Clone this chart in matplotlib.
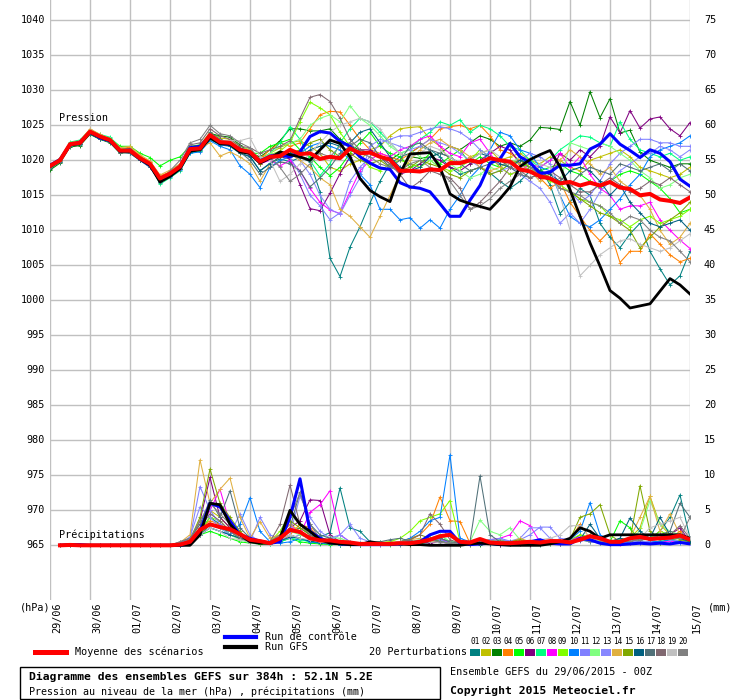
import numpy as np
import matplotlib
matplotlib.use("Agg")
import matplotlib.pyplot as plt
from matplotlib.patches import Rectangle

# 6h steps, 29/06 00Z -> 15/07 00Z (384h)
dates = ["29/06", "30/06", "01/07", "02/07", "03/07", "04/07", "05/07", "06/07", "07/07",
         "08/07", "09/07", "10/07", "11/07", "12/07", "13/07", "14/07", "15/07"]
left_ticks = [965, 970, 975, 980, 985, 990, 995, 1000, 1005, 1010, 1015, 1020, 1025, 1030, 1035, 1040]
right_ticks = [0, 5, 10, 15, 20, 25, 30, 35, 40, 45, 50, 55, 60, 65, 70, 75]
pert_colors = ["#008080", "#c0c000", "#008000", "#ff8000", "#00ff00", "#800080", "#00ff80",
               "#ff00ff", "#80ff00", "#0080ff", "#8080ff", "#80ff80", "#8888ff", "#e0b040",
               "#80a800", "#006080", "#507078", "#806870", "#c0c0c0", "#808080"]

# ---- pressure (hPa) ----
p_mean = [1019.2, 1020.0, 1022.3, 1022.5, 1024.1, 1023.4, 1022.9, 1021.4, 1021.4, 1020.3, 1019.5, 1017.4, 1018.1,
          1019.1, 1021.6, 1021.7, 1023.6, 1022.6, 1022.5, 1021.5, 1021.2, 1019.8, 1020.5, 1020.6, 1021.5, 1020.9,
          1021.0, 1020.2, 1020.5, 1020.3, 1021.7, 1021.0, 1021.1, 1020.5, 1020.1, 1018.5, 1018.5, 1018.4, 1018.7,
          1018.6, 1019.6, 1019.6, 1020.0, 1019.7, 1020.3, 1020.0, 1019.8, 1018.7, 1018.4, 1017.7, 1017.4, 1016.7,
          1016.9, 1016.4, 1016.8, 1016.4, 1016.9, 1016.1, 1015.9, 1015.0, 1015.2, 1014.4, 1014.2, 1013.9, 1014.7]
p_ctrl = [1019.3, 1020.1, 1022.2, 1022.6, 1024.0, 1023.2, 1022.8, 1021.3, 1021.5, 1020.2, 1019.3, 1017.3, 1018.0,
          1019.0, 1021.8, 1022.0, 1023.5, 1022.4, 1022.3, 1021.6, 1021.1, 1019.9, 1020.6, 1020.8, 1020.5, 1021.2,
          1023.4, 1024.1, 1023.9, 1022.7, 1022.0, 1020.5, 1019.6, 1018.9, 1018.7, 1016.8, 1016.2, 1016.0, 1015.5,
          1013.8, 1012.0, 1012.0, 1014.3, 1016.4, 1019.6, 1020.2, 1022.4, 1020.5, 1019.7, 1018.1, 1018.3, 1019.3,
          1019.3, 1019.5, 1021.6, 1022.3, 1023.8, 1022.3, 1021.4, 1020.4, 1021.5, 1021.0, 1019.8, 1017.3, 1016.3]
p_gfs = [1019.1, 1020.0, 1022.2, 1022.4, 1024.0, 1023.3, 1022.8, 1021.3, 1021.3, 1020.2, 1019.3, 1016.9, 1017.7,
         1018.8, 1021.3, 1021.5, 1023.2, 1022.4, 1022.3, 1021.2, 1021.0, 1019.6, 1020.3, 1021.2, 1020.8, 1020.5,
         1020.0, 1021.5, 1022.9, 1022.4, 1020.5, 1017.4, 1015.7, 1014.8, 1014.1, 1018.1, 1020.9, 1021.0, 1021.1,
         1019.0, 1015.2, 1014.3, 1013.8, 1013.4, 1013.0, 1014.5, 1016.2, 1019.1, 1020.1, 1020.8, 1021.4, 1019.1,
         1015.8, 1012.0, 1008.2, 1004.9, 1001.4, 1000.3, 998.9, 999.2, 999.5, 1001.3, 1003.1, 1002.2, 1000.9]

p01 = [1018.8, 1019.8, 1022.0, 1022.2, 1023.8, 1023.0, 1022.6, 1021.2, 1021.0, 1020.0, 1019.2, 1016.8, 1017.8, 1018.7, 1021.2, 1021.4, 1023.0, 1022.2, 1022.0, 1021.0, 1020.6,
       1018.5, 1019.6, 1020.2, 1019.8, 1020.4, 1019.8, 1015.5, 1006.0, 1003.4, 1007.6, 1010.5,
       1013.9, 1017.0, 1019.5, 1020.5, 1021.0, 1022.0, 1021.5, 1020.5, 1019.0, 1018.0, 1018.5, 1019.0, 1018.2, 1017.0, 1016.0, 1017.0, 1018.5, 1019.0, 1016.5, 1012.4, 1014.0, 1016.0, 1015.0, 1011.0, 1009.0, 1007.5, 1009.5, 1011.0, 1007.0, 1004.5, 1002.2, 1003.5, 1007.0]
p02 = [1019.4, 1020.2, 1022.5, 1022.7, 1024.4, 1023.6, 1023.1, 1021.7, 1021.6, 1020.5, 1019.7, 1017.6, 1018.4, 1019.4, 1021.9, 1022.2, 1024.0, 1023.2, 1023.0, 1022.0, 1021.5,
       1020.3, 1021.0, 1021.8, 1022.5, 1022.8, 1022.0, 1021.0, 1019.0, 1018.5, 1019.5, 1020.0,
       1021.5, 1022.0, 1023.5, 1024.5, 1024.7, 1024.8, 1023.0, 1022.0, 1020.0, 1019.5, 1020.5, 1021.0, 1021.5, 1020.0, 1020.5, 1021.0, 1020.0, 1019.5, 1020.5, 1020.0, 1019.0, 1018.5, 1020.0, 1020.5, 1021.0, 1021.5, 1020.5, 1019.0, 1018.5, 1018.0, 1017.5, 1018.0, 1019.0]
p03 = [1018.6, 1019.6, 1021.9, 1022.1, 1023.7, 1023.0, 1022.5, 1021.0, 1021.2, 1020.1, 1019.2, 1017.0, 1017.8, 1018.9, 1021.5, 1021.8, 1023.8, 1023.5, 1023.3, 1022.2, 1021.0,
       1020.5, 1021.5, 1022.8, 1024.5, 1024.5, 1024.2, 1024.2, 1024.5, 1023.0, 1022.0, 1021.5,
       1021.0, 1020.5, 1020.0, 1021.0, 1020.5, 1020.3, 1020.5, 1021.0, 1022.0, 1021.5, 1022.5, 1023.5, 1023.0, 1022.0, 1022.5, 1022.0, 1022.9, 1024.7, 1024.6, 1024.4, 1028.4, 1025.0, 1029.8, 1026.1, 1028.8, 1023.9, 1024.3, 1021.2, 1020.0, 1019.5, 1019.0, 1019.5, 1019.5]
p04 = [1019.2, 1020.1, 1022.4, 1022.6, 1024.2, 1023.5, 1023.0, 1021.6, 1021.9, 1020.6, 1019.8, 1017.8, 1018.3, 1019.3, 1021.3, 1021.9, 1023.4, 1022.8, 1022.6, 1021.4, 1021.3,
       1020.2, 1021.5, 1022.5, 1022.0, 1022.5, 1024.5, 1026.5, 1027.0, 1026.9, 1025.0, 1023.0,
       1021.5, 1021.0, 1020.5, 1020.0, 1021.0, 1022.0, 1023.0, 1024.5, 1024.8, 1025.0, 1024.5, 1025.0, 1023.5, 1021.5, 1021.0, 1020.0, 1019.0, 1017.5, 1016.0, 1017.0, 1014.0, 1012.0, 1010.0, 1008.5, 1010.0, 1005.4, 1007.0, 1007.0, 1009.5, 1008.0, 1006.5, 1005.5, 1006.0]
p05 = [1019.0, 1020.0, 1022.4, 1022.8, 1024.3, 1023.4, 1023.2, 1022.0, 1022.0, 1021.0, 1020.4, 1019.2, 1020.0, 1020.5, 1022.0, 1022.2, 1023.3, 1022.8, 1022.5, 1021.8, 1021.0,
       1021.0, 1022.0, 1022.5, 1023.0, 1021.5, 1020.5, 1019.0, 1017.8, 1019.0, 1021.0, 1022.5,
       1024.0, 1022.0, 1021.0, 1020.5, 1019.0, 1019.5, 1021.0, 1019.5, 1020.5, 1021.5, 1019.5, 1020.5, 1019.5, 1019.0, 1020.0, 1019.5, 1019.0, 1018.5, 1019.0, 1019.5, 1018.5, 1018.0, 1017.0, 1016.0, 1017.0, 1018.0, 1018.5, 1018.0, 1017.0, 1016.0, 1014.5, 1012.5, 1013.0]
p06 = [1019.1, 1019.9, 1022.1, 1022.4, 1023.9, 1023.2, 1022.7, 1021.2, 1021.2, 1020.1, 1019.3, 1017.2, 1017.9, 1018.8, 1021.4, 1021.6, 1023.2, 1022.4, 1022.3, 1021.3, 1020.8,
       1019.5, 1020.2, 1020.5, 1020.2, 1016.5, 1013.1, 1012.8, 1015.3, 1018.1, 1020.5, 1021.5,
       1021.5, 1020.5, 1019.5, 1018.0, 1018.5, 1019.5, 1020.5, 1020.0, 1019.0, 1018.5, 1019.5, 1020.0, 1021.0, 1022.0, 1021.5, 1019.5, 1018.5, 1017.5, 1018.0, 1021.0, 1020.0, 1021.5, 1020.5, 1022.0, 1026.2, 1023.9, 1027.1, 1024.6, 1025.9, 1026.2, 1024.5, 1023.5, 1025.4]
p07 = [1019.3, 1020.3, 1022.6, 1022.9, 1024.4, 1023.7, 1023.3, 1021.8, 1021.6, 1020.4, 1019.5, 1016.6, 1017.5, 1018.5, 1021.0, 1021.3, 1023.0, 1022.5, 1022.6, 1021.6, 1021.4,
       1020.0, 1021.0, 1022.5, 1024.8, 1023.0, 1020.0, 1017.8, 1019.5, 1022.5, 1024.5, 1026.0,
       1025.5, 1024.0, 1022.5, 1021.0, 1021.5, 1023.0, 1024.0, 1025.5, 1025.0, 1025.8, 1024.0, 1025.0, 1024.5, 1023.5, 1022.0, 1021.5, 1020.0, 1019.0, 1020.0, 1021.5, 1022.5, 1023.5, 1023.3, 1022.5, 1022.0, 1025.5, 1023.0, 1021.5, 1021.0, 1020.5, 1021.0, 1020.0, 1020.5]
p08 = [1019.2, 1020.0, 1022.3, 1022.5, 1024.2, 1023.5, 1022.9, 1021.5, 1021.3, 1020.2, 1019.4, 1017.3, 1018.0, 1019.0, 1021.5, 1021.6, 1023.5, 1022.5, 1022.4, 1021.3, 1021.0,
       1019.5, 1020.0, 1019.2, 1020.0, 1018.5, 1016.0, 1014.0, 1012.9, 1012.4, 1015.5, 1018.5,
       1020.0, 1021.0, 1020.5, 1021.5, 1022.0, 1023.0, 1023.5, 1022.0, 1021.0, 1020.5, 1022.5, 1023.0, 1021.0, 1019.0, 1018.0, 1018.5, 1019.5, 1019.0, 1020.0, 1021.0, 1019.0, 1020.5, 1018.0, 1016.0, 1015.0, 1013.0, 1013.5, 1013.5, 1014.0, 1011.5, 1010.0, 1008.6, 1007.4]
p09 = [1019.3, 1020.1, 1022.2, 1022.4, 1024.1, 1023.3, 1022.8, 1021.3, 1021.5, 1020.4, 1019.6, 1017.5, 1018.2, 1019.2, 1021.7, 1021.8, 1023.7, 1022.8, 1022.7, 1021.7, 1021.3,
       1019.9, 1020.8, 1021.3, 1022.5, 1025.5, 1028.3, 1027.5, 1026.5, 1024.0, 1022.0, 1020.5,
       1019.0, 1018.5, 1019.5, 1020.0, 1019.5, 1019.0, 1020.0, 1019.0, 1018.5, 1019.0, 1020.0, 1021.5, 1020.5, 1019.0, 1018.0, 1018.5, 1019.0, 1018.0, 1017.0, 1016.5, 1015.5, 1014.5, 1014.0, 1013.5, 1012.0, 1011.5, 1010.5, 1011.5, 1012.0, 1011.0, 1011.5, 1012.0, 1013.0]
p10 = [1019.0, 1019.8, 1022.0, 1022.3, 1023.9, 1023.1, 1022.6, 1021.2, 1021.1, 1020.0, 1019.0, 1016.9, 1017.6, 1018.6, 1021.0, 1021.2, 1022.8, 1022.0, 1021.5, 1019.2, 1018.0,
       1016.1, 1019.0, 1020.0, 1020.5, 1021.0, 1022.0, 1022.5, 1022.0, 1021.5, 1020.0, 1018.0,
       1016.5, 1013.0, 1013.0, 1011.5, 1011.8, 1010.3, 1011.5, 1010.3, 1013.0, 1015.0, 1017.5, 1019.0, 1021.5, 1024.0, 1023.5, 1021.5, 1021.0, 1019.0, 1018.5, 1015.0, 1012.0, 1011.0, 1010.5, 1011.5, 1013.0, 1014.5, 1016.5, 1018.0, 1020.5, 1021.5, 1022.0, 1022.5, 1023.5]
p11 = [1019.1, 1020.0, 1022.2, 1022.6, 1024.0, 1023.3, 1022.8, 1021.4, 1021.4, 1020.3, 1019.4, 1017.2, 1018.1, 1019.1, 1021.6, 1021.6, 1023.2, 1022.5, 1022.4, 1021.5, 1021.2,
       1019.8, 1020.8, 1021.0, 1020.5, 1018.0, 1015.0, 1013.5, 1011.5, 1012.5, 1017.0, 1019.0,
       1020.5, 1022.5, 1023.0, 1023.5, 1023.5, 1024.0, 1024.5, 1024.8, 1024.5, 1024.0, 1023.0, 1021.5, 1020.5, 1020.0, 1019.5, 1020.0, 1021.0, 1020.5, 1019.5, 1016.0, 1015.5, 1014.0, 1015.0, 1017.0, 1019.5, 1021.0, 1022.0, 1023.0, 1023.0, 1022.5, 1022.5, 1022.0, 1022.0]
p12 = [1019.2, 1020.0, 1022.4, 1022.5, 1024.2, 1023.5, 1023.0, 1021.5, 1021.4, 1020.2, 1019.4, 1017.4, 1018.2, 1019.3, 1021.8, 1022.0, 1023.6, 1022.8, 1022.7, 1021.8, 1021.5,
       1020.0, 1021.0, 1022.0, 1022.5, 1023.0, 1025.0, 1026.0, 1026.5, 1025.5, 1027.8, 1026.0,
       1025.0, 1023.5, 1022.0, 1021.0, 1021.5, 1020.5, 1020.0, 1019.0, 1019.5, 1018.5, 1017.5, 1018.0, 1019.0, 1018.5, 1019.5, 1020.5, 1019.0, 1018.0, 1017.5, 1016.5, 1022.5, 1022.0, 1021.5, 1022.5, 1022.0, 1021.0, 1020.0, 1018.5, 1017.5, 1016.0, 1016.5, 1017.5, 1018.0]
p13 = [1019.3, 1020.1, 1022.3, 1022.5, 1024.1, 1023.4, 1022.9, 1021.5, 1021.3, 1020.3, 1019.5, 1017.3, 1018.0, 1019.0, 1021.4, 1021.5, 1023.4, 1022.6, 1022.6, 1021.6, 1021.1,
       1020.0, 1020.5, 1021.0, 1021.5, 1020.0, 1018.0, 1015.0, 1013.0, 1012.3, 1015.0, 1017.5,
       1022.0, 1023.0, 1022.5, 1022.0, 1021.5, 1022.0, 1023.0, 1022.5, 1022.0, 1021.0, 1020.0, 1019.0, 1018.0, 1018.5, 1019.0, 1018.0, 1017.0, 1016.0, 1014.0, 1011.0, 1012.5, 1011.0, 1013.0, 1015.5, 1017.0, 1018.5, 1019.5, 1020.5, 1021.0, 1022.0, 1021.5, 1020.5, 1021.5]
p14 = [1019.4, 1020.3, 1022.5, 1022.8, 1024.5, 1023.7, 1023.1, 1021.8, 1022.0, 1020.8, 1019.9, 1017.9, 1018.6, 1019.5, 1021.5, 1021.8, 1022.5, 1020.6, 1021.2, 1020.5, 1019.5,
       1017.0, 1019.5, 1020.5, 1021.0, 1020.0, 1019.0, 1017.5, 1016.5, 1013.0, 1012.0, 1010.5,
       1009.0, 1012.0, 1015.0, 1018.0, 1020.0, 1021.5, 1022.5, 1023.0, 1022.0, 1021.5, 1020.5, 1019.0, 1018.5, 1019.0, 1020.0, 1019.5, 1018.5, 1017.0, 1018.0, 1020.0, 1021.5, 1020.5, 1019.5, 1018.0, 1019.0, 1017.0, 1016.0, 1015.0, 1013.0, 1010.0, 1008.0, 1009.0, 1011.0]
p15 = [1019.0, 1019.9, 1022.1, 1022.3, 1024.0, 1023.2, 1022.7, 1021.2, 1021.2, 1020.1, 1019.2, 1017.1, 1017.8, 1018.8, 1021.3, 1021.6, 1023.3, 1022.4, 1022.3, 1021.4, 1020.9,
       1019.5, 1020.3, 1021.2, 1021.0, 1021.5, 1022.5, 1023.0, 1021.5, 1020.5, 1021.0, 1020.0,
       1019.5, 1020.0, 1019.0, 1018.5, 1019.0, 1020.0, 1019.5, 1019.0, 1018.0, 1017.5, 1018.5, 1019.0, 1018.0, 1018.5, 1019.5, 1020.0, 1019.0, 1018.5, 1017.5, 1016.0, 1015.5, 1014.5, 1013.5, 1012.5, 1012.0, 1011.0, 1010.0, 1007.5, 1009.0, 1010.5, 1011.5, 1012.5, 1014.0]
p16 = [1019.1, 1020.0, 1022.2, 1022.4, 1024.0, 1023.2, 1022.8, 1021.3, 1021.2, 1020.0, 1019.1, 1017.0, 1017.7, 1018.7, 1021.2, 1021.5, 1023.2, 1022.3, 1022.1, 1021.0, 1020.5,
       1018.5, 1019.5, 1020.5, 1021.0, 1020.5, 1021.5, 1022.0, 1022.5, 1022.0, 1022.5, 1024.0,
       1024.5, 1022.5, 1020.5, 1019.0, 1018.5, 1019.0, 1020.5, 1021.0, 1020.5, 1019.5, 1020.0, 1021.0, 1020.5, 1019.5, 1019.0, 1020.0, 1019.5, 1018.5, 1018.0, 1017.0, 1018.5, 1019.0, 1018.5, 1017.0, 1015.0, 1016.5, 1014.0, 1012.5, 1011.0, 1010.5, 1011.0, 1011.5, 1010.0]
p17 = [1018.9, 1019.8, 1022.0, 1022.3, 1023.9, 1023.1, 1022.6, 1021.1, 1021.0, 1020.0, 1019.0, 1016.9, 1017.7, 1018.8, 1021.6, 1021.8, 1024.0, 1023.0, 1022.5, 1021.2, 1020.0,
       1018.0, 1019.0, 1019.8, 1019.5, 1018.5, 1016.2, 1017.5, 1019.0, 1021.0, 1022.0, 1023.0,
       1022.5, 1020.5, 1019.0, 1020.0, 1022.0, 1022.5, 1021.5, 1021.0, 1020.5, 1019.5, 1018.5, 1019.0, 1019.5, 1020.0, 1019.0, 1018.0, 1017.5, 1018.0, 1017.5, 1017.0, 1016.5, 1018.0, 1019.0, 1018.5, 1018.0, 1019.5, 1019.0, 1018.5, 1019.0, 1019.5, 1018.5, 1019.5, 1018.5]
p18 = [1019.2, 1020.1, 1022.3, 1022.5, 1024.0, 1023.4, 1022.9, 1021.5, 1021.4, 1020.3, 1019.5, 1017.5, 1018.3, 1019.4, 1022.2, 1022.5, 1024.5, 1023.5, 1023.0, 1022.0, 1021.8,
       1021.0, 1021.5, 1022.0, 1022.8, 1026.0, 1029.0, 1029.4, 1028.4, 1026.0, 1023.0, 1021.5,
       1021.0, 1020.5, 1019.5, 1018.0, 1016.0, 1017.0, 1018.5, 1018.0, 1017.5, 1016.0, 1013.0, 1014.0, 1015.5, 1017.0, 1019.0, 1018.5, 1017.5, 1018.0, 1018.5, 1017.5, 1016.5, 1015.5, 1015.5, 1016.5, 1017.5, 1016.5, 1015.5, 1016.0, 1017.0, 1016.5, 1017.5, 1016.5, 1015.5]
p19 = [1019.3, 1020.2, 1022.4, 1022.7, 1024.3, 1023.5, 1023.0, 1021.6, 1021.5, 1020.4, 1019.6, 1017.6, 1018.3, 1019.3, 1021.9, 1021.9, 1023.6, 1022.8, 1022.8, 1022.8, 1023.2,
       1020.5, 1020.0, 1017.0, 1018.0, 1019.5, 1021.0, 1022.5, 1024.0, 1025.0, 1025.5, 1026.0,
       1025.5, 1024.5, 1022.5, 1021.0, 1020.5, 1021.0, 1022.0, 1021.5, 1020.5, 1019.5, 1020.0, 1021.0, 1021.5, 1020.5, 1019.5, 1019.0, 1018.5, 1019.5, 1019.0, 1015.0, 1010.0, 1003.5, 1005.0, 1006.5, 1007.5, 1008.5, 1008.8, 1008.0, 1007.5, 1007.0, 1007.5, 1008.5, 1009.5]
p20 = [1019.0, 1020.0, 1022.2, 1022.5, 1024.2, 1023.3, 1022.9, 1021.4, 1021.3, 1020.2, 1019.3, 1017.0, 1018.5, 1020.0, 1022.5, 1023.0, 1025.0, 1023.8, 1023.5, 1022.5, 1021.8,
       1020.0, 1020.5, 1019.0, 1017.0, 1018.0, 1019.5, 1021.0, 1020.5, 1022.0, 1022.5, 1021.0,
       1020.5, 1019.5, 1019.0, 1018.5, 1019.5, 1020.0, 1019.0, 1018.5, 1017.0, 1015.0, 1013.0, 1013.5, 1014.5, 1016.0, 1017.0, 1018.0, 1019.0, 1018.0, 1017.5, 1016.0, 1015.5, 1015.0, 1014.0, 1013.5, 1012.5, 1011.0, 1012.0, 1011.5, 1010.0, 1009.0, 1008.5, 1007.0, 1005.5]

# ---- 6h precipitation (mm), steps 1..64 ----
r_mean = [0, 0.05, 0, 0, 0, 0, 0, 0,
          0, 0, 0, 0, 0.1, 0.5, 2.2, 3.0,
          2.6, 2.3, 1.6, 0.8, 0.6, 0.3, 1.0, 2.2,
          1.9, 1.0, 0.7, 0.7, 0.5, 0.4, 0.2, 0.2,
          0.2, 0.2, 0.3, 0.3, 0.5, 0.8, 1.3, 1.5,
          0.5, 0.4, 0.9, 0.4, 0.3, 0.3, 0.4, 0.5,
          0.4, 0.6, 0.6, 0.4, 0.8, 1.3, 1.0, 0.5,
          0.5, 1.0, 1.2, 0.9, 1.0, 1.1, 1.4, 0.8]
r_ctrl = [0, 0.1, 0.1, 0, 0, 0, 0, 0,
          0, 0, 0, 0, 0, 0.2, 2.0, 6.0,
          5.5, 3.5, 1.5, 1.0, 0.6, 0.3, 0.5, 4.0,
          9.5, 2.0, 1.0, 0.5, 0.2, 0.1, 0.1, 0.1,
          0.1, 0.1, 0.2, 0.3, 0.5, 1.5, 2.0, 2.0,
          0.3, 0.1, 0.2, 0.3, 0.1, 0.1, 0.2, 0.5,
          0.8, 0.3, 0.2, 0.2, 1.0, 0.8, 0.3, 0.1,
          0.1, 0.2, 0.3, 0.2, 0.3, 0.2, 0.4, 0.2]
r_gfs = [0, 0, 0, 0, 0, 0, 0, 0,
         0, 0, 0, 0, 0, 0, 1.5, 6.0,
         5.8, 3.0, 1.5, 0.5, 0.3, 0.3, 1.0, 5.0,
         3.0, 2.0, 0.8, 0.3, 0.2, 0.1, 0.1, 0.5,
         0.3, 0.2, 0.2, 0.1, 0.1, 0, 0, 0,
         0, 0.2, 0.3, 0.2, 0.1, 0, 0, 0,
         0, 0.2, 0.5, 1.0, 2.5, 2.0, 1.0, 1.5,
         1.5, 1.5, 1.5, 1.5, 1.5, 1.5, 1.5, 1.0]

r01 = [0, 0, 0, 0, 0, 0, 0, 0, 0, 0, 0, 0, 0.2, 0.5, 2.0, 4.0, 3.0, 1.5, 1.0, 0.3, 0.2, 0.5, 1.0, 2.0,
       2.5, 1.5, 1.2, 1.8, 8.2, 2.5, 2.0, 0.5, 0.3, 0.2, 0.1, 0.2, 0.3, 0.4, 1.0, 0.5,
       0.2, 0.1, 0.2, 0.3, 0.2, 0.5, 0.3, 0.2, 0.1, 0.3, 0.2, 0.5, 1.0, 1.5, 0.8, 0.5, 1.0, 0.8, 1.5, 1.0, 2.0, 4.0, 7.2, 1.0]
r02 = [0, 0, 0, 0, 0, 0, 0, 0, 0, 0, 0, 0, 0.3, 0.8, 3.0, 5.0, 4.0, 2.5, 1.0, 0.5, 0.2, 0.3, 1.5, 3.0,
       2.0, 1.0, 0.5, 0.3, 0.2, 0.1, 0.1, 0.2, 0.3, 0.5, 0.2, 0.4, 0.6, 0.8, 1.0, 0.4,
       0.2, 0.1, 0.3, 0.5, 0.4, 0.2, 0.3, 0.5, 0.4, 0.6, 0.5, 0.3, 0.8, 1.5, 1.0, 0.5, 0.8, 1.0, 2.5, 7.0, 3.0, 1.5, 1.0, 0.5]
r03 = [0, 0, 0, 0, 0, 0, 0, 0, 0, 0, 0, 0, 0.1, 0.4, 1.5, 3.0, 2.5, 2.0, 1.0, 0.5, 0.3, 0.2, 0.8, 1.5,
       1.0, 0.5, 0.3, 0.2, 0.1, 0.2, 0.1, 0.1, 0.2, 0.3, 0.2, 0.1, 0.3, 0.5, 0.8, 0.3,
       0.1, 0.2, 0.1, 0.2, 0.1, 0.2, 0.3, 0.2, 0.3, 0.2, 0.4, 0.5, 1.5, 1.0, 0.5, 0.3, 0.5, 0.4, 0.6, 0.5, 0.4, 0.8, 1.0, 0.5]
r04 = [0, 0, 0, 0, 0, 0, 0, 0, 0, 0, 0, 0, 0.2, 0.6, 2.5, 3.5, 3.0, 2.0, 1.5, 0.8, 0.5, 0.3, 0.5, 1.5,
       3.0, 2.5, 1.0, 0.5, 0.3, 0.2, 0.2, 0.3, 0.3, 0.2, 0.5, 1.0, 1.5, 3.0, 6.9, 3.5,
       3.4, 0.3, 0.5, 0.8, 0.5, 0.3, 0.4, 0.2, 0.3, 0.5, 0.5, 0.8, 3.0, 1.0, 0.5, 0.3, 0.5, 0.8, 1.2, 0.8, 1.5, 1.0, 2.0, 0.5]
r05 = [0, 0, 0, 0, 0, 0, 0, 0, 0, 0, 0, 0, 0.1, 0.3, 1.5, 2.0, 1.5, 1.0, 0.5, 0.3, 0.2, 0.2, 0.5, 1.0,
       0.5, 0.3, 0.2, 0.1, 0.1, 0.2, 0.1, 0.1, 0.2, 0.1, 0.2, 0.3, 0.4, 0.6, 1.0, 0.4,
       0.1, 0.2, 0.3, 0.5, 0.8, 0.4, 0.3, 0.2, 0.2, 0.3, 0.5, 0.4, 0.8, 0.5, 0.4, 0.5, 3.5, 2.5, 0.5, 0.3, 0.5, 0.8, 0.6, 0.5]
r06 = [0, 0, 0, 0, 0, 0, 0, 0, 0, 0, 0, 0, 0.2, 0.8, 3.5, 9.7, 4.0, 2.5, 1.5, 0.5, 0.3, 0.3, 1.0, 2.5,
       3.5, 6.5, 6.4, 1.5, 0.5, 0.2, 0.1, 0.2, 0.1, 0.2, 0.3, 0.2, 0.5, 0.3, 0.5, 0.2,
       0.1, 0.2, 0.3, 0.2, 0.1, 0.3, 0.2, 0.1, 0.2, 0.3, 0.2, 0.5, 0.8, 0.6, 0.3, 0.2, 0.5, 0.6, 1.0, 0.8, 1.2, 1.5, 2.5, 0.5]
r07 = [0, 0, 0, 0, 0, 0, 0, 0, 0, 0, 0, 0, 0.1, 0.4, 2.0, 3.0, 2.5, 1.5, 1.0, 0.5, 0.3, 0.2, 0.5, 1.0,
       0.8, 0.5, 0.3, 0.2, 0.1, 0.2, 0.1, 0.3, 0.5, 0.3, 0.2, 0.3, 0.5, 0.8, 1.5, 0.5,
       0.3, 0.2, 0.3, 0.5, 0.4, 0.3, 0.5, 0.4, 0.3, 0.4, 0.6, 0.5, 1.0, 0.8, 0.6, 0.5, 0.8, 1.0, 1.2, 1.0, 0.8, 1.5, 1.2, 0.5]
r08 = [0, 0, 0, 0, 0, 0, 0, 0, 0, 0, 0, 0, 0.3, 0.8, 2.5, 5.0, 8.0, 3.0, 1.5, 0.5, 0.3, 0.5, 1.5, 3.0,
       1.5, 4.7, 5.8, 7.8, 1.5, 0.5, 0.3, 0.2, 0.2, 0.3, 0.2, 0.3, 0.5, 0.8, 1.0, 0.3,
       0.2, 0.3, 0.5, 0.8, 1.0, 1.5, 3.5, 2.8, 0.5, 0.3, 0.5, 0.8, 1.2, 1.0, 0.5, 0.3, 0.2, 0.3, 0.4, 0.3, 0.5, 0.6, 0.5, 0.4]
r09 = [0, 0, 0, 0, 0, 0, 0, 0, 0, 0, 0, 0, 0.2, 0.5, 2.0, 4.0, 3.5, 2.0, 1.0, 0.5, 0.3, 0.5, 2.0, 4.5,
       3.0, 1.5, 0.5, 0.3, 0.2, 0.1, 0.2, 0.3, 0.4, 0.5, 1.0, 2.0, 3.5, 4.0, 4.5, 6.4,
       0.5, 0.3, 0.5, 0.8, 0.6, 0.4, 0.5, 0.3, 0.4, 0.3, 0.5, 0.8, 1.5, 1.2, 0.8, 0.5, 0.5, 1.0, 1.5, 1.0, 2.0, 1.5, 1.0, 0.5]
r10 = [0, 0, 0, 0, 0, 0, 0, 0, 0, 0, 0, 0, 0.1, 0.3, 1.5, 2.5, 2.0, 1.5, 3.0, 6.8, 2.0, 0.5, 0.3, 0.5,
       1.0, 0.5, 0.3, 0.2, 0.1, 0.2, 0.3, 0.2, 0.2, 0.3, 0.5, 1.0, 2.0, 3.5, 4.0, 12.9,
       1.0, 0.5, 0.3, 0.2, 0.3, 0.4, 0.3, 0.5, 0.4, 0.3, 0.5, 0.8, 2.0, 6.1, 1.5, 0.5, 0.3, 0.5, 0.4, 0.6, 0.5, 0.8, 0.4, 0.3]
r11 = [0, 0, 0, 0, 0, 0, 0, 0, 0, 0, 0, 0, 0.3, 1.0, 8.4, 5.0, 3.0, 2.0, 1.0, 0.5, 4.0, 1.5, 0.8, 1.0,
       1.5, 1.0, 0.8, 0.6, 1.5, 0.5, 0.3, 0.2, 0.2, 0.3, 0.4, 0.5, 0.8, 1.0, 0.8, 0.3,
       0.2, 0.3, 0.5, 0.8, 1.0, 0.6, 0.8, 1.5, 2.6, 2.6, 1.0, 0.8, 0.6, 0.8, 0.5, 0.4, 0.5, 0.8, 1.0, 0.8, 1.5, 1.2, 1.0, 0.5]
r12 = [0, 0, 0, 0, 0, 0, 0, 0, 0, 0, 0, 0, 0.2, 0.5, 2.0, 3.0, 2.5, 1.5, 0.8, 0.4, 0.3, 0.3, 1.0, 2.0,
       1.5, 1.0, 0.8, 1.2, 1.0, 0.5, 0.3, 0.3, 0.3, 0.2, 0.3, 0.5, 0.8, 1.0, 1.5, 0.5,
       0.5, 0.5, 3.6, 2.0, 1.5, 2.5, 0.8, 0.5, 0.3, 0.5, 0.4, 0.6, 0.8, 1.0, 0.5, 0.4, 0.6, 1.0, 2.0, 6.4, 3.0, 2.0, 1.5, 0.6]
r13 = [0, 0, 0, 0, 0, 0, 0, 0, 0, 0, 0, 0, 0.3, 1.2, 5.5, 4.0, 2.5, 1.5, 4.5, 1.5, 0.5, 0.3, 0.8, 1.5,
       7.0, 4.0, 2.0, 1.0, 1.5, 3.0, 1.0, 0.5, 0.3, 0.2, 0.3, 0.4, 0.6, 0.8, 0.5, 0.3,
       0.2, 0.3, 0.4, 0.5, 0.8, 0.6, 1.0, 2.5, 2.5, 1.0, 0.5, 0.6, 0.8, 0.5, 0.3, 0.2, 0.4, 0.5, 0.6, 0.5, 1.0, 0.8, 0.6, 0.4]
r14 = [0, 0, 0, 0, 0, 0, 0, 0, 0, 0, 0, 0, 0.4, 1.5, 12.2, 6.0, 8.0, 9.6, 4.0, 1.0, 3.4, 1.0, 1.5, 3.0,
       2.0, 1.0, 0.5, 0.3, 0.2, 0.3, 0.2, 0.3, 0.4, 0.3, 0.5, 0.8, 1.0, 0.6, 0.5, 0.3,
       0.2, 0.3, 0.4, 0.5, 0.6, 0.4, 1.0, 0.5, 0.4, 0.3, 0.5, 0.6, 1.0, 0.8, 0.5, 0.4, 0.5, 1.0, 4.0, 7.0, 2.0, 4.5, 1.5, 0.5]
r15 = [0, 0, 0, 0, 0, 0, 0, 0, 0, 0, 0, 0, 0.2, 0.8, 4.0, 10.9, 6.0, 4.0, 2.0, 0.5, 0.3, 0.5, 1.5, 3.5,
       2.5, 1.5, 0.5, 0.3, 0.2, 0.1, 0.2, 0.3, 0.3, 0.4, 0.5, 0.8, 1.5, 1.0, 0.5, 0.3,
       0.2, 0.3, 0.4, 0.5, 0.6, 0.5, 0.8, 0.5, 0.4, 0.5, 0.5, 0.8, 4.0, 4.5, 5.8, 1.5, 0.5, 0.8, 8.5, 2.0, 1.0, 1.5, 0.8, 0.5]
r16 = [0, 0, 0, 0, 0, 0, 0, 0, 0, 0, 0, 0, 0.1, 0.4, 1.5, 2.5, 2.0, 1.5, 1.0, 0.5, 0.3, 0.3, 0.6, 1.2,
       1.0, 0.6, 0.4, 0.3, 0.2, 0.3, 0.2, 0.2, 0.2, 0.3, 0.4, 0.5, 0.6, 0.8, 0.5, 0.3,
       0.2, 0.3, 0.5, 0.4, 0.3, 0.5, 0.4, 0.3, 0.3, 0.4, 0.6, 0.5, 0.8, 3.0, 1.0, 0.5, 1.0, 3.9, 2.0, 1.0, 4.0, 1.5, 1.0, 0.5]
r17 = [0, 0, 0, 0, 0, 0, 0, 0, 0, 0, 0, 0, 0.5, 1.0, 3.0, 6.5, 4.0, 7.8, 2.5, 1.0, 0.5, 0.3, 1.0, 2.5,
       7.6, 3.0, 1.5, 1.0, 0.5, 0.3, 0.2, 0.3, 0.5, 0.8, 1.0, 0.6, 0.5, 0.8, 1.0, 0.5,
       0.3, 0.5, 9.9, 1.5, 0.5, 0.3, 0.4, 0.3, 0.3, 0.5, 0.4, 0.6, 1.0, 0.8, 0.5, 0.4, 0.5, 0.6, 0.8, 1.0, 1.5, 2.0, 6.0, 4.0]
r18 = [0, 0, 0, 0, 0, 0, 0, 0, 0, 0, 0, 0, 0.3, 0.6, 2.5, 4.5, 3.5, 2.0, 1.0, 0.5, 0.3, 0.5, 3.0, 8.6,
       3.0, 1.5, 0.8, 0.5, 0.3, 0.2, 0.2, 0.3, 0.3, 0.2, 0.5, 0.8, 1.5, 4.5, 3.0, 0.8,
       0.3, 0.2, 0.3, 0.4, 0.5, 0.4, 0.3, 0.5, 0.4, 0.3, 0.5, 0.6, 0.8, 0.6, 0.5, 0.4, 0.5, 0.6, 1.0, 0.8, 1.0, 1.5, 2.8, 1.0]
r19 = [0, 0, 0, 0, 0, 0, 0, 0, 0, 0, 0, 0, 0.2, 0.5, 1.5, 2.5, 2.0, 1.0, 0.8, 0.4, 0.3, 0.2, 0.8, 1.5,
       1.0, 0.8, 0.5, 0.3, 0.2, 0.3, 0.2, 0.2, 0.2, 0.3, 0.5, 0.4, 0.6, 0.5, 0.4, 0.3,
       0.2, 0.3, 0.4, 0.5, 0.4, 0.3, 0.5, 0.6, 0.8, 1.0, 1.5, 2.8, 2.8, 1.0, 0.5, 0.4, 0.6, 0.8, 1.0, 2.5, 3.0, 3.5, 4.0, 1.0]
r20 = [0, 0, 0, 0, 0, 0, 0, 0, 0, 0, 0, 0, 0.5, 1.0, 3.5, 6.0, 4.5, 3.0, 1.5, 0.5, 0.3, 0.5, 1.5, 4.0,
       7.5, 3.0, 1.0, 0.5, 0.3, 0.2, 0.2, 0.3, 0.3, 0.2, 0.3, 0.5, 0.6, 0.8, 0.5, 0.3,
       0.3, 0.2, 0.3, 0.4, 0.3, 0.5, 0.4, 0.3, 0.3, 0.4, 0.5, 0.6, 0.8, 0.6, 0.5, 0.4, 0.5, 0.6, 0.8, 1.0, 1.5, 1.2, 1.0, 4.0]

pert_p = [p01, p02, p03, p04, p05, p06, p07, p08, p09, p10, p11, p12, p13, p14, p15, p16, p17, p18, p19, p20]
pert_r = [r01, r02, r03, r04, r05, r06, r07, r08, r09, r10, r11, r12, r13, r14, r15, r16, r17, r18, r19, r20]

t_p = np.arange(65) * 0.25      # days since 29/06 00Z
t_r = np.arange(1, 65) * 0.25
base = 965.0                    # precipitation drawn on the pressure scale, 0 mm = 965 hPa

W, H = 740, 700
fig = plt.figure(figsize=(W / 100, H / 100), dpi=100)
fig.patch.set_facecolor("white")
ax = fig.add_axes([50 / W, 1 - 600 / H, 640 / W, 600 / H])
ax.set_xlim(0, 16)
ax.set_ylim(965 - 54.7 / 7, 1040 + 20.3 / 7)
ax.axis("off")

mono = "DejaVu Sans Mono"
grid_c = "#c0c0c0"
for v in left_ticks:
    ax.plot([0, 16], [v, v], color=grid_c, lw=1, zorder=0)
for d in range(17):
    ax.axvline(d, color=grid_c, lw=1, zorder=0)

# perturbations
for pp, rr, col in zip(pert_p, pert_r, pert_colors):
    ax.plot(t_p, pp, color=col, lw=0.75, marker="+", ms=2.5, mew=0.6, zorder=2)
    ax.plot(t_r, base + np.array(rr), color=col, lw=0.75, marker="+", ms=2.5, mew=0.6, zorder=2)

ax.plot(t_p, p_ctrl, color="#0000ff", lw=2.2, zorder=3)
ax.plot(t_r, base + np.array(r_ctrl), color="#0000ff", lw=2.2, zorder=3)
ax.plot(t_p, p_gfs, color="black", lw=2.0, zorder=3)
ax.plot(t_r, base + np.array(r_gfs), color="black", lw=2.0, zorder=3)
ax.plot(t_p, p_mean, color="#ff0000", lw=2.9, zorder=4)
ax.plot(t_r, base + np.array(r_mean), color="#ff0000", lw=2.9, zorder=4)

ax.text(0.22, 1025.6, "Pression", fontsize=7.3, family=mono, zorder=5)
ax.text(0.22, 966.0, "Précipitations", fontsize=7.3, family=mono, zorder=5)

def fx(x):
    return x / W

def fy(y):
    return 1 - y / H

# axis labels
for v in left_ticks:
    fig.text(fx(45), fy(20.3 + (1040 - v) * 7), str(v), fontsize=7.3, family=mono, ha="right", va="center")
for v in right_ticks:
    fig.text(fx(704), fy(20.3 + (75 - v) * 7), str(v), fontsize=7.3, family=mono, ha="left", va="center")
for k, lab in enumerate(dates):
    fig.text(fx(50 + 40 * k + 7), fy(602), lab, fontsize=7.3, family=mono, rotation=90, ha="center", va="top")
fig.text(fx(20), fy(607), "(hPa)", fontsize=7.3, family=mono, va="center")
fig.text(fx(708), fy(607), "(mm)", fontsize=7.3, family=mono, va="center")

# legend
fig.add_artist(plt.Line2D([fx(35), fx(66)], [fy(652), fy(652)], color="#ff0000", lw=3.6))
fig.text(fx(75), fy(652), "Moyenne des scénarios", fontsize=7.3, family=mono, va="center")
fig.add_artist(plt.Line2D([fx(225), fx(256)], [fy(637), fy(637)], color="#0000ff", lw=3))
fig.text(fx(265), fy(637), "Run de contrôle", fontsize=7.3, family=mono, va="center")
fig.add_artist(plt.Line2D([fx(225), fx(256)], [fy(647), fy(647)], color="black", lw=3))
fig.text(fx(265), fy(647), "Run GFS", fontsize=7.3, family=mono, va="center")
fig.text(fx(369), fy(652), "20 Perturbations", fontsize=7.3, family=mono, va="center")
for k, col in enumerate(pert_colors):
    x0 = 470 + k * 10.95
    fig.add_artist(Rectangle((fx(x0), fy(656)), 10 / W, 7 / H, transform=fig.transFigure,
                             facecolor=col, edgecolor="none"))
    fig.text(fx(x0 + 5), fy(642), "%02d" % (k + 1), fontsize=5.6, family=mono,
             ha="center", va="center")

# title box
fig.add_artist(Rectangle((fx(20), fy(699)), 420 / W, 32 / H, transform=fig.transFigure,
                         facecolor="white", edgecolor="black", lw=1))
fig.text(fx(29), fy(677), "Diagramme des ensembles GEFS sur 384h : 52.1N 5.2E",
         fontsize=8.2, family=mono, weight="bold", va="center")
fig.text(fx(29), fy(692), "Pression au niveau de la mer (hPa) , précipitations (mm)",
         fontsize=7.2, family=mono, va="center")
fig.text(fx(450), fy(672), "Ensemble GEFS du 29/06/2015 - 00Z", fontsize=7.3, family=mono, va="center")
fig.text(fx(450), fy(691), "Copyright 2015 Meteociel.fr", fontsize=8.2, family=mono,
         weight="bold", va="center")

fig.savefig("out.png", dpi=100)
